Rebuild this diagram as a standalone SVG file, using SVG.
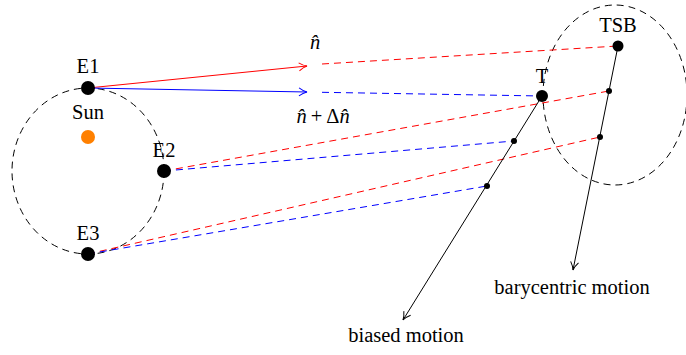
<svg xmlns="http://www.w3.org/2000/svg" width="686" height="355" viewBox="0 0 686 355">
<style>
text{font-family:"Liberation Serif","Times New Roman",serif;font-size:20.5px;fill:#000;text-anchor:middle}
.orb{fill:none;stroke:#000;stroke-width:1;stroke-dasharray:7 5}
.rd{stroke:#f00;stroke-width:1;stroke-dasharray:7 5;fill:none}
.bd{stroke:#00f;stroke-width:1;stroke-dasharray:7 5;fill:none}
.m{font-style:italic}
</style>
<defs>
<marker id="ark" viewBox="0 0 10 10" refX="9" refY="5" markerWidth="10" markerHeight="10" markerUnits="userSpaceOnUse" orient="auto">
<path d="M1,1 Q5,4 9,5 Q5,6 1,9" fill="none" stroke="#000" stroke-width="1"/>
</marker>
<marker id="arr" viewBox="0 0 10 10" refX="9" refY="5" markerWidth="10" markerHeight="10" markerUnits="userSpaceOnUse" orient="auto">
<path d="M1,1 Q5,4 9,5 Q5,6 1,9" fill="none" stroke="#f00" stroke-width="1"/>
</marker>
<marker id="arb" viewBox="0 0 10 10" refX="9" refY="5" markerWidth="10" markerHeight="10" markerUnits="userSpaceOnUse" orient="auto">
<path d="M1,1 Q5,4 9,5 Q5,6 1,9" fill="none" stroke="#00f" stroke-width="1"/>
</marker>
</defs>
<g id="orbits">
<ellipse class="orb" cx="88" cy="171" rx="76" ry="83"/>
<ellipse class="orb" cx="615" cy="95" rx="72" ry="90"/>
</g>
<g id="connectors">
<line x1="88" y1="88" x2="307" y2="66" stroke="#f00" stroke-width="1" marker-end="url(#arr)"/>
<line x1="88" y1="88" x2="307" y2="92" stroke="#00f" stroke-width="1" marker-end="url(#arb)"/>
<line class="rd" x1="322" y1="64" x2="618" y2="46"/>
<line class="bd" x1="322" y1="92.3" x2="542" y2="96"/>
<line class="rd" x1="164" y1="171" x2="609" y2="91"/>
<line class="bd" x1="164" y1="171" x2="514" y2="141"/>
<line class="rd" x1="88" y1="254" x2="600" y2="137"/>
<line class="bd" x1="88" y1="254" x2="487" y2="186"/>
<line x1="542" y1="96" x2="403" y2="320" stroke="#000" stroke-width="1" marker-end="url(#ark)"/>
<line x1="618" y1="46" x2="573" y2="270" stroke="#000" stroke-width="1" marker-end="url(#ark)"/>
</g>
<g id="sun"><circle cx="88" cy="137" r="7" fill="#ff8000"/><text x="88" y="119">Sun</text></g>
<g id="E1"><circle cx="88" cy="88" r="7"/><text x="88" y="73">E1</text></g>
<g id="E2"><circle cx="164" cy="171" r="7"/><text x="164" y="157">E2</text></g>
<g id="E3"><circle cx="88" cy="254" r="7"/><text x="88" y="240">E3</text></g>
<g id="T"><circle cx="542" cy="96" r="6"/><text x="542" y="83">T</text></g>
<g id="TSB"><circle cx="618" cy="46" r="5.5"/><text x="618" y="32">TSB</text></g>
<g id="dots">
<circle cx="609" cy="91" r="3"/>
<circle cx="600" cy="137" r="3"/>
<circle cx="514" cy="141" r="3"/>
<circle cx="487" cy="186" r="3"/>
</g>
<g id="labels">
<text x="315" y="49" class="m">n̂</text>
<text x="323" y="123"><tspan class="m">n̂</tspan><tspan dx="4">+</tspan><tspan dx="4">Δ</tspan><tspan class="m">n̂</tspan></text>
<text x="406" y="342">biased motion</text>
<text x="572" y="294">barycentric motion</text>
</g>
</svg>
